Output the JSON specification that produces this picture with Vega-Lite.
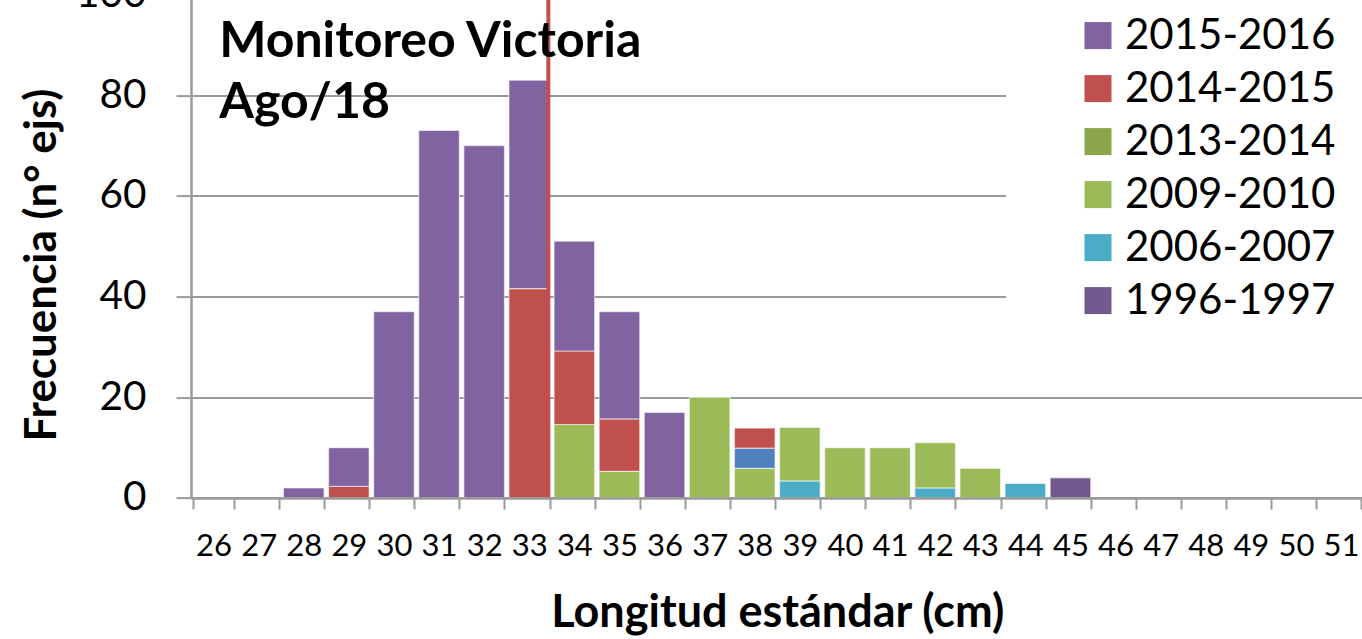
{
  "$schema": "https://vega.github.io/schema/vega-lite/v6.json",
  "autosize": "none",
  "width": 1172.6,
  "height": 503.4,
  "padding": {"left": 191, "top": -5.4, "right": 0, "bottom": 141},
  "background": "white",
  "config": {
    "font": "Lato",
    "view": {"stroke": null},
    "axis": {"domain": true},
    "legend": {"labelFont": "Lato"}
  },
  "datasets": {
    "frecuencias": [
      {"L": 28, "serie": "2015-2016", "n": 2},
      {"L": 29, "serie": "2014-2015", "n": 2.3},
      {"L": 29, "serie": "2015-2016", "n": 7.7},
      {"L": 30, "serie": "2015-2016", "n": 37},
      {"L": 31, "serie": "2015-2016", "n": 73},
      {"L": 32, "serie": "2015-2016", "n": 70},
      {"L": 33, "serie": "2014-2015", "n": 41.6},
      {"L": 33, "serie": "2015-2016", "n": 41.4},
      {"L": 34, "serie": "2009-2010", "n": 14.6},
      {"L": 34, "serie": "2014-2015", "n": 14.6},
      {"L": 34, "serie": "2015-2016", "n": 21.8},
      {"L": 35, "serie": "2009-2010", "n": 5.3},
      {"L": 35, "serie": "2014-2015", "n": 10.4},
      {"L": 35, "serie": "2015-2016", "n": 21.3},
      {"L": 36, "serie": "2015-2016", "n": 17},
      {"L": 37, "serie": "2009-2010", "n": 20},
      {"L": 38, "serie": "2009-2010", "n": 5.9},
      {"L": 38, "serie": "2014 (otro)", "n": 4},
      {"L": 38, "serie": "2014-2015", "n": 4},
      {"L": 39, "serie": "2006-2007", "n": 3.4},
      {"L": 39, "serie": "2009-2010", "n": 10.6},
      {"L": 40, "serie": "2009-2010", "n": 10},
      {"L": 41, "serie": "2009-2010", "n": 10},
      {"L": 42, "serie": "2006-2007", "n": 2},
      {"L": 42, "serie": "2009-2010", "n": 9},
      {"L": 43, "serie": "2009-2010", "n": 5.9},
      {"L": 44, "serie": "2006-2007", "n": 2.9},
      {"L": 45, "serie": "1996-1997", "n": 4}
    ],
    "corte": [{"L": 33, "desde": 0, "hasta": 100}],
    "rotulo": [{"L": 26, "y": 87.6}]
  },
  "layer": [
    {
      "data": {"name": "frecuencias"},
      "mark": {"type": "bar", "stroke": "white", "strokeOpacity": 0.55, "strokeWidth": 1.2},
      "encoding": {
        "x": {
          "field": "L",
          "type": "ordinal",
          "scale": {
            "domain": [26,27,28,29,30,31,32,33,34,35,36,37,38,39,40,41,42,43,44,45,46,47,48,49,50,51],
            "paddingInner": 0.1,
            "paddingOuter": 0.05
          },
          "axis": {
            "title": "Longitud estándar (cm)",
            "titleFont": "Lato",
            "titleFontSize": 45,
            "titleFontWeight": "bold",
            "titleColor": "black",
            "titlePadding": 29,
            "labelFont": "Lato",
            "labelFontSize": 31,
            "labelColor": "black",
            "labelAngle": 0,
            "labelPadding": 23,
            "labelOverlap": false,
            "tickBand": "extent",
            "tickSize": 11,
            "tickWidth": 2,
            "tickColor": "#9a9a9a",
            "domainColor": "#9a9a9a",
            "domainWidth": 2.5,
            "grid": false,
            "zindex": 1
          }
        },
        "y": {
          "field": "n",
          "type": "quantitative",
          "aggregate": "sum",
          "stack": "zero",
          "scale": {"domain": [0, 100], "nice": false},
          "axis": {
            "title": "Frecuencia (n° ejs)",
            "titleFont": "Lato",
            "titleFontSize": 44,
            "titleFontWeight": "bold",
            "titleColor": "black",
            "titlePadding": 11,
            "titleY": 270,
            "labelFont": "Lato",
            "labelFontSize": 40.5,
            "labelColor": "black",
            "labelPadding": 30,
            "values": [0, 20, 40, 60, 80, 100],
            "tickSize": 15,
            "tickWidth": 2,
            "tickColor": "#9a9a9a",
            "domain": true,
            "domainColor": "#9a9a9a",
            "domainWidth": 2.5,
            "grid": true,
            "gridColor": "#9a9a9a",
            "gridWidth": 2
          }
        },
        "order": {"field": "serie", "sort": "ascending"},
        "color": {
          "field": "serie",
          "type": "nominal",
          "scale": {
            "domain": ["2015-2016", "2014-2015", "2013-2014", "2009-2010", "2006-2007", "1996-1997", "2014 (otro)"],
            "range": ["#8064A2", "#C0504D", "#8BA54A", "#9BBB59", "#4BACC6", "#725990", "#4F81BD"]
          },
          "legend": {
            "values": ["2015-2016", "2014-2015", "2013-2014", "2009-2010", "2006-2007", "1996-1997"],
            "title": null,
            "orient": "none",
            "legendX": 815,
            "legendY": -51,
            "padding": 71,
            "fillColor": "white",
            "symbolType": "square",
            "symbolSize": 729,
            "symbolStrokeWidth": 0,
            "labelFontSize": 42,
            "labelColor": "black",
            "labelOffset": 6,
            "rowPadding": 11,
            "labelLimit": 400
          }
        }
      }
    },
    {
      "data": {"name": "corte"},
      "mark": {"type": "rule", "color": "#C0504D", "strokeWidth": 4},
      "encoding": {
        "x": {"field": "L", "type": "ordinal", "bandPosition": 0.97},
        "y": {"field": "desde", "type": "quantitative"},
        "y2": {"field": "hasta"}
      }
    },
    {
      "data": {"name": "rotulo"},
      "mark": {"type": "text", "align": "left", "baseline": "alphabetic", "fontSize": 50, "fontWeight": "bold", "font": "Lato", "color": "black", "lineHeight": 61, "text": ["Monitoreo Victoria", "Ago/18"]},
      "encoding": {
        "x": {"field": "L", "type": "ordinal", "bandPosition": 0.64},
        "y": {"field": "y", "type": "quantitative"}
      }
    }
  ]
}
